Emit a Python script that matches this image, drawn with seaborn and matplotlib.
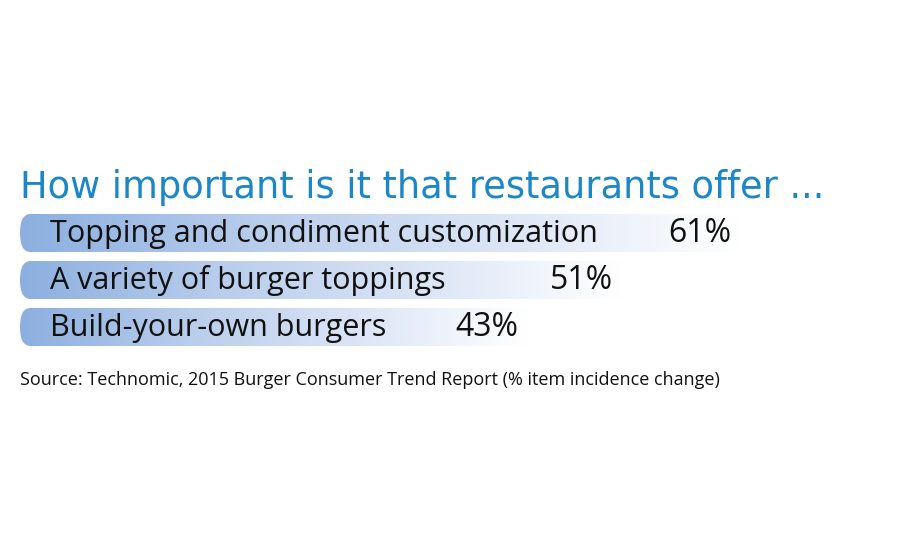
import numpy as np
import pandas as pd
import matplotlib
matplotlib.use("Agg")
import matplotlib.pyplot as plt
import seaborn as sns
from matplotlib.patches import FancyBboxPatch
from matplotlib.colors import LinearSegmentedColormap

categories = ["Topping and condiment customization",
              "A variety of burger toppings",
              "Build-your-own burgers"]
values = [61, 51, 43]
value_labels = ["61%", "51%", "43%"]
title = "How important is it that restaurants offer ..."
source = "Source: Technomic, 2015 Burger Consumer Trend Report (% item incidence change)"

sns.set_theme(style="white")
plt.rcParams['font.family'] = ['Open Sans', 'DejaVu Sans']

W, H = 900, 550
fig = plt.figure(figsize=(9, 5.5), dpi=100)
ax = fig.add_axes([0, 0, 1, 1])

df = pd.DataFrame({"cat": categories, "val": values})
sns.barplot(data=df, x="val", y="cat", orient="h", ax=ax,
            color="white", width=0.81, linewidth=0)

# pixel mapping
px_per = 11.8
x0px = 20
ax.set_xlim(-x0px / px_per, (W - x0px) / px_per)
row0 = 233
rowstep = 47
ax.set_ylim(2 + (H - 327) / rowstep, -row0 / rowstep)
ax.axis("off")

cmap = LinearSegmentedColormap.from_list(
    "g", ["#8cafdf", "#b9cdec", "#dbe5f6", "#ffffff"])
grad = np.linspace(0, 1, 256).reshape(1, -1)
for p in ax.patches:
    x, y = p.get_x(), p.get_y()
    w, h = p.get_width(), p.get_height()
    p.set_visible(False)
    clip = FancyBboxPatch((x, y), w * 1.2, h,
                          boxstyle="round,pad=0,rounding_size=0.9",
                          mutation_aspect=h / 1.0 * 0.55,
                          transform=ax.transData, facecolor="none",
                          edgecolor="none")
    ax.add_patch(clip)
    im = ax.imshow(grad, extent=(x, x + w, y + h, y), cmap=cmap,
                   aspect="auto", interpolation="bicubic", zorder=1)
    im.set_clip_path(clip)

for i, (c, v, lab) in enumerate(zip(categories, values, value_labels)):
    ax.text(30 / px_per, i + 0.02, c, fontsize=22, color="#111111",
            va="center", ha="left", zorder=3)
    ax.text(v - 6.1, i + 0.02, lab, fontsize=23, color="#111111",
            va="center", ha="left", zorder=3)

fig.text(20 / W, 1 - 187 / H, title, fontsize=26.5, color="#1b86c8",
         va="center", ha="left", family=["DejaVu Sans"])
fig.text(20 / W, 1 - 380 / H, source, fontsize=13, color="#111111",
         va="center", ha="left", family=["Liberation Sans Narrow", "Open Sans", "DejaVu Sans"])

ax.set_ylim(2 + (H - 327) / rowstep, -row0 / rowstep)
ax.set_xlim(-x0px / px_per, (W - x0px) / px_per)
fig.savefig("out.png", dpi=100, facecolor="white")
